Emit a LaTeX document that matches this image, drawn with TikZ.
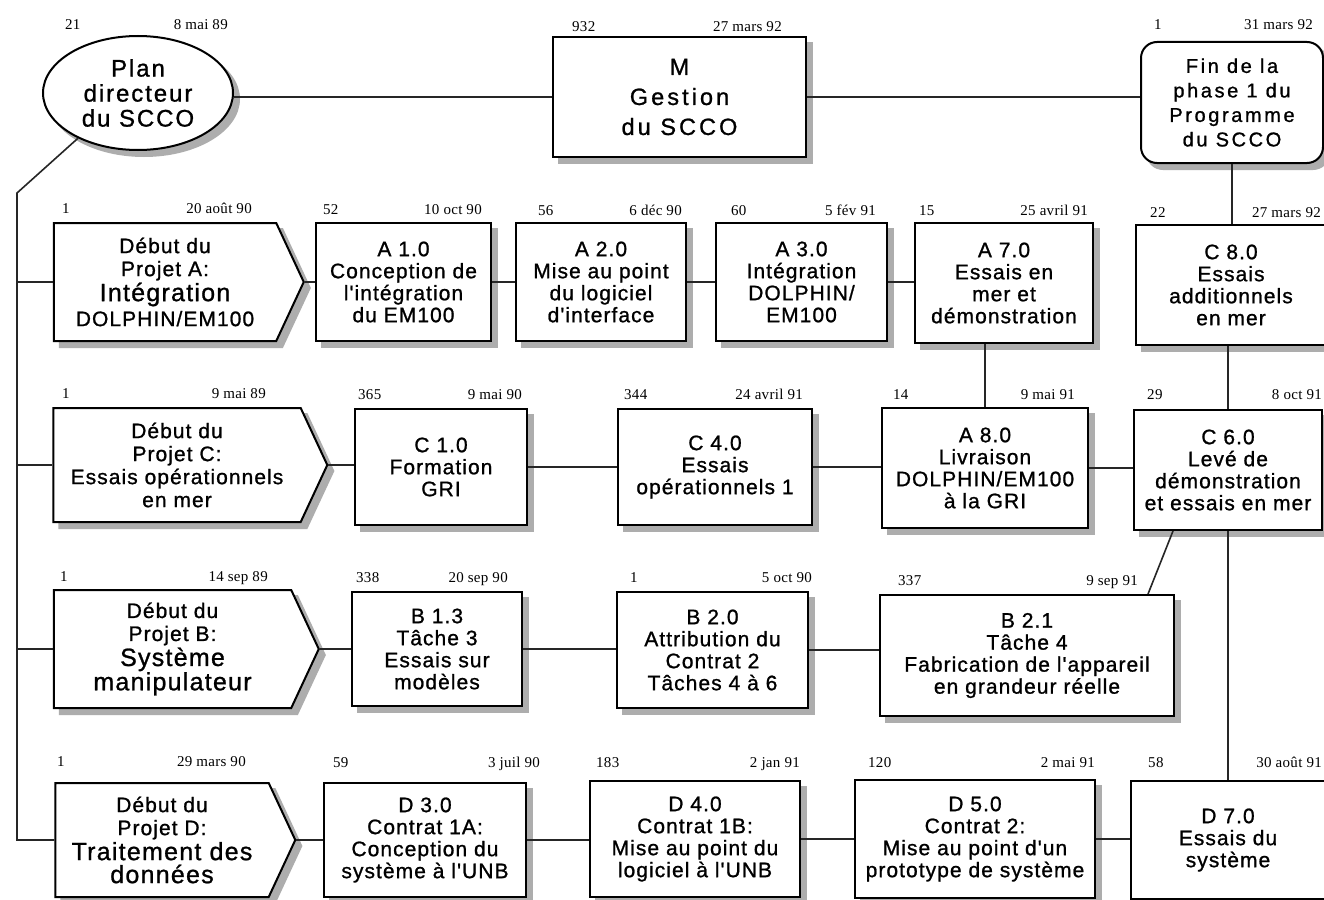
\documentclass[tikz,border=0pt]{standalone}
\usepackage{fontspec}
\setmainfont{Liberation Sans}
\newfontfamily\boxfont{Liberation Sans}[LetterSpace=5,FakeBold=1]
\newfontfamily\planfont{Liberation Sans}[LetterSpace=8,FakeBold=1]
\newfontfamily\widefont{Liberation Sans}[LetterSpace=13,FakeBold=1]
\newfontfamily\datefont{Liberation Serif}[LetterSpace=2]
\usetikzlibrary{calc,shapes.geometric,shapes.symbols}

\newcommand{\bigline}{\fontsize{25}{28}\selectfont}

\tikzset{
  shade box/.style={preaction={draw=black!32,fill=black!32,transform canvas={xshift=6pt,yshift=-6pt}}},
  task/.style={draw,rectangle,line width=2pt,fill=white,shade box,align=center,inner sep=0pt,
    font=\boxfont\fontsize{21}{22}\selectfont},
  start/.style={draw,signal,signal to=east,signal pointer angle=130,line width=2pt,fill=white,
    shade box,align=center,inner sep=0pt,font=\boxfont\fontsize{21}{23}\selectfont},
  num/.style={font=\datefont\fontsize{15}{15}\selectfont,anchor=base west,inner sep=0pt},
  date/.style={num,anchor=base east},
  link/.style={line width=1.6pt,black!85},
}

\begin{document}
\begin{tikzpicture}[x=1pt,y=-1pt]
\useasboundingbox (0,0) rectangle (1324,899);
\fill[white] (0,0) rectangle (1324,899);
\clip (0,0) rectangle (1324,899);

% top row
\node[ellipse,draw,line width=2pt,fill=white,shade box,align=center,inner sep=0pt,
  minimum width=190pt,minimum height=114pt,font=\planfont\fontsize{24}{25}\selectfont]
  (plan) at (138,93) {Plan\\directeur\\du SCCO};
\node[task,minimum width=253pt,minimum height=119pt,font=\widefont\fontsize{23.5}{30}\selectfont]
  (m) at (679.5,97) {M\\Gestion\\du SCCO};
\node[task,rounded corners=16pt,minimum width=182pt,minimum height=121pt,
  font=\widefont\fontsize{20}{24.5}\selectfont]
  (fin) at (1232,102.5) {Fin de la\\phase 1 du\\Programme\\du SCCO};

% row A
\node[start,minimum width=250pt,minimum height=118pt] (astart) at (165,282)
  {Début du\\Projet A:\\[2pt]{\bigline Intégration}\\[2pt]DOLPHIN/EM100};
\node[task,minimum width=175pt,minimum height=118pt] (a10) at (403.5,282)
  {A 1.0\\Conception de\\l'intégration\\du EM100};
\node[task,minimum width=170pt,minimum height=118pt] (a20) at (601,282)
  {A 2.0\\Mise au point\\du logiciel\\d'interface};
\node[task,minimum width=171pt,minimum height=118pt] (a30) at (801.5,282)
  {A 3.0\\Intégration\\DOLPHIN/\\EM100};
\node[task,minimum width=178pt,minimum height=120pt] (a70) at (1004,283)
  {A 7.0\\Essais en\\mer et\\démonstration};
\node[task,minimum width=190pt,minimum height=120pt] (c80) at (1231,285)
  {C 8.0\\Essais\\additionnels\\en mer};

% row C
\node[start,minimum width=274pt,minimum height=114pt] (cstart) at (177,465)
  {Début du\\Projet C:\\Essais opérationnels\\en mer};
\node[task,minimum width=172pt,minimum height=116pt] (c10) at (441,467)
  {C 1.0\\Formation\\GRI};
\node[task,minimum width=194pt,minimum height=116pt] (c40) at (715,467)
  {C 4.0\\Essais\\opérationnels 1};
\node[task,minimum width=206pt,minimum height=120pt] (a80) at (985,468)
  {A 8.0\\Livraison\\DOLPHIN/EM100\\à la GRI};
\node[task,minimum width=188pt,minimum height=120pt] (c60) at (1228,470)
  {C 6.0\\Levé de\\démonstration\\et essais en mer};

% row B
\node[start,minimum width=265pt,minimum height=118pt] (bstart) at (172.5,649)
  {Début du\\Projet B:\\[2pt]{\bigline Système}\\{\bigline manipulateur}};
\node[task,minimum width=170pt,minimum height=114pt] (b13) at (437,649)
  {B 1.3\\Tâche 3\\Essais sur\\modèles};
\node[task,minimum width=191pt,minimum height=116pt] (b20) at (712.5,650)
  {B 2.0\\Attribution du\\Contrat 2\\Tâches 4 à 6};
\node[task,minimum width=294pt,minimum height=121pt] (b21) at (1027,655.5)
  {B 2.1\\Tâche 4\\Fabrication de l'appareil\\en grandeur réelle};

% row D
\node[start,minimum width=240pt,minimum height=114pt] (dstart) at (162,840)
  {Début du\\Projet D:\\[2pt]{\bigline Traitement des}\\{\bigline données}};
\node[task,minimum width=202pt,minimum height=114pt] (d30) at (425,840)
  {D 3.0\\Contrat 1A:\\Conception du\\système à l'UNB};
\node[task,minimum width=210pt,minimum height=116pt] (d40) at (695,839)
  {D 4.0\\Contrat 1B:\\Mise au point du\\logiciel à l'UNB};
\node[task,minimum width=240pt,minimum height=118pt] (d50) at (975,839)
  {D 5.0\\Contrat 2:\\Mise au point d'un\\prototype de système};
\node[task,minimum width=194pt,minimum height=118pt] (d70) at (1228,840)
  {D 7.0\\Essais du\\système};

% durations and dates
\node[num] (plann) at (65,30) {21};        \node[date] (pland) at (228,30) {8 mai 89};
\node[num] (mn) at (572,32) {932};         \node[date] (md) at (782,32) {27 mars 92};
\node[num] (finn) at (1154,30) {1};        \node[date] (find) at (1313,30) {31 mars 92};
\node[num] (astartn) at (62,213) {1};      \node[date] (astartd) at (252,213) {20 août 90};
\node[num] (a10n) at (323,214) {52};       \node[date] (a10d) at (482,214) {10 oct 90};
\node[num] (a20n) at (538,215) {56};       \node[date] (a20d) at (682,215) {6 déc 90};
\node[num] (a30n) at (731,215) {60};       \node[date] (a30d) at (876,215) {5 fév 91};
\node[num] (a70n) at (919,215) {15};       \node[date] (a70d) at (1088,215) {25 avril 91};
\node[num] (c80n) at (1150,217) {22};      \node[date] (c80d) at (1321,217) {27 mars 92};
\node[num] (cstartn) at (62,398) {1};      \node[date] (cstartd) at (266,398) {9 mai 89};
\node[num] (c10n) at (358,399) {365};      \node[date] (c10d) at (522,399) {9 mai 90};
\node[num] (c40n) at (624,399) {344};      \node[date] (c40d) at (803,399) {24 avril 91};
\node[num] (a80n) at (893,399) {14};       \node[date] (a80d) at (1075,399) {9 mai 91};
\node[num] (c60n) at (1147,399) {29};      \node[date] (c60d) at (1322,399) {8 oct 91};
\node[num] (bstartn) at (60,581) {1};      \node[date] (bstartd) at (268,581) {14 sep 89};
\node[num] (b13n) at (356,582) {338};      \node[date] (b13d) at (508,582) {20 sep 90};
\node[num] (b20n) at (630,582) {1};        \node[date] (b20d) at (812,582) {5 oct 90};
\node[num] (b21n) at (898,585) {337};      \node[date] (b21d) at (1138,585) {9 sep 91};
\node[num] (dstartn) at (57,766) {1};      \node[date] (dstartd) at (246,766) {29 mars 90};
\node[num] (d30n) at (333,767) {59};       \node[date] (d30d) at (540,767) {3 juil 90};
\node[num] (d40n) at (596,767) {183};      \node[date] (d40d) at (800,767) {2 jan 91};
\node[num] (d50n) at (868,767) {120};      \node[date] (d50d) at (1095,767) {2 mai 91};
\node[num] (d70n) at (1148,767) {58};      \node[date] (d70d) at (1322,767) {30 août 91};

% links
\draw[link] (m.west) -- (m.west -| plan.east);
\draw[link] (m.east) -- (m.east -| fin.west);
\draw[link] (fin.south) -- (fin.south |- c80.north);
\draw[link] (astart.east) -- (a10.west);
\draw[link] (a10.east) -- (a20.west);
\draw[link] (a20.east) -- (a30.west);
\draw[link] (a30.east) -- (a30.east -| a70.west);
\draw[link] (a80.north) -- (a80.north |- a70.south);
\draw[link] (c60.north) -- (c60.north |- c80.south);
\draw[link] (cstart.east) -- (cstart.east -| c10.west);
\draw[link] (c10.east) -- (c40.west);
\draw[link] (c40.east) -- (c40.east -| a80.west);
\draw[link] (a80.east) -- (a80.east -| c60.west);
\draw[link] ($(c60.south west)+(40,0)$) -- ($(b21.north east)+(-27,0)$);
\draw[link] (c60.south) -- (c60.south |- d70.north);
\draw[link] (bstart.east) -- (b13.west);
\draw[link] (b13.east) -- (b13.east -| b20.west);
\draw[link] (b20.east) -- (b20.east -| b21.west);
\draw[link] (dstart.east) -- (d30.west);
\draw[link] (d30.east) -- (d30.east -| d40.west);
\draw[link] (d40.east) -- (d50.west);
\draw[link] (d50.east) -- (d50.east -| d70.west);

% left bus
\coordinate (bus) at (17,193);
\draw[link] (plan.217) -- (bus) |- (dstart.west);
\draw[link] (astart.west) -- (astart.west -| bus);
\draw[link] (cstart.west) -- (cstart.west -| bus);
\draw[link] (bstart.west) -- (bstart.west -| bus);

\end{tikzpicture}
\end{document}
